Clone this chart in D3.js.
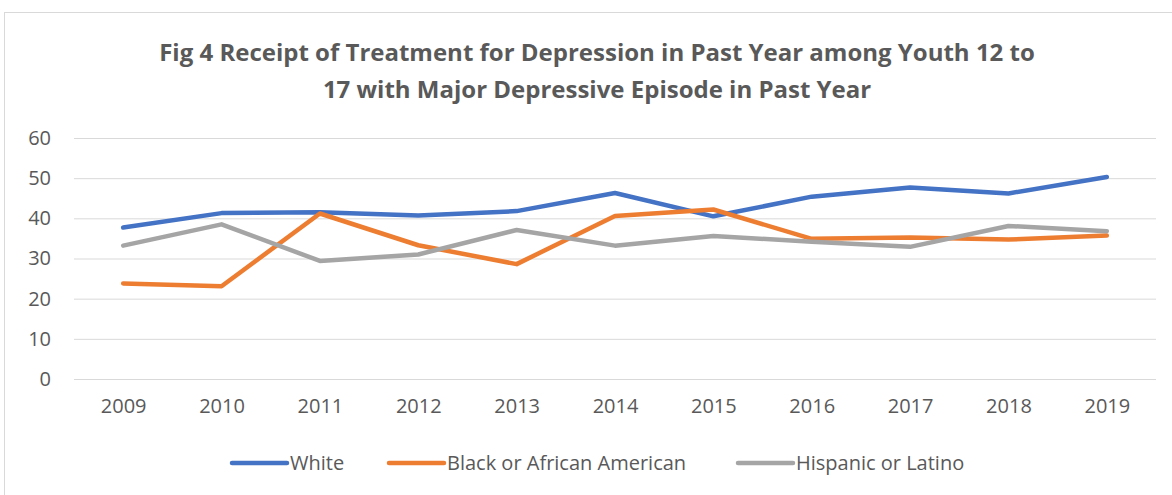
<!DOCTYPE html>
<html>
<head>
<meta charset="utf-8">
<script src="https://cdn.jsdelivr.net/npm/d3@7"></script>
<style>
  body { margin: 0; background: #fff; }
  text { font-family: "Open Sans", "Liberation Sans", sans-serif; fill: #595959; }
</style>
</head>
<body>
<div class="container"></div>
<script>
const years = ['2009', '2010', '2011', '2012', '2013', '2014', '2015', '2016', '2017', '2018', '2019'];
const white = [37.7, 41.3, 41.5, 40.7, 41.8, 46.3, 40.5, 45.4, 47.7, 46.2, 50.3];
const black = [23.8, 23.1, 41.2, 33.3, 28.6, 40.6, 42.2, 34.9, 35.2, 34.7, 35.7];
const hispanic = [33.2, 38.5, 29.4, 31.0, 37.1, 33.2, 35.6, 34.2, 32.9, 38.1, 36.8];
const seriesNames = ['White', 'Black or African American', 'Hispanic or Latino'];
const yTicks = [0, 10, 20, 30, 40, 50, 60];

const renderLineChart = () => {
  const width = 1172;
  const height = 495;
  const left = 74, right = 1156, top = 138, bottom = 379;
  const colors = ['#4472C4', '#ED7D31', '#A5A5A5'];
  const series = [white, black, hispanic];

  const svg = d3.select('.container')
    .append('svg')
    .attr('width', width)
    .attr('height', height);

  // chart area border
  svg.append('rect')
    .attr('x', 4.5).attr('y', 12.5)
    .attr('width', 1180).attr('height', 500)
    .attr('fill', 'none')
    .attr('stroke', '#d9d9d9');

  const xScale = d3.scalePoint()
    .domain(years)
    .range([left, right])
    .padding(0.5);

  const yScale = d3.scaleLinear()
    .domain([0, 60])
    .range([bottom, top]);

  // title
  const title = svg.append('text')
    .attr('text-anchor', 'middle')
    .attr('font-weight', 'bold')
    .attr('font-size', 24);
  title.append('tspan').attr('x', 597).attr('y', 61)
    .text('Fig 4 Receipt of Treatment for Depression in Past Year among Youth 12 to');
  title.append('tspan').attr('x', 597).attr('y', 98)
    .text('17 with Major Depressive Episode in Past Year');

  // gridlines
  svg.append('g')
    .selectAll('line')
    .data(yTicks)
    .enter()
    .append('line')
    .attr('x1', left).attr('x2', right)
    .attr('y1', d => yScale(d) + 0.5).attr('y2', d => yScale(d) + 0.5)
    .attr('stroke', '#d9d9d9')
    .attr('stroke-width', 1);

  // y labels
  const yAxis = svg.append('g')
    .attr('transform', `translate(${left - 23},0)`)
    .call(d3.axisLeft(yScale).tickValues(yTicks).tickSize(0).tickPadding(0));
  yAxis.select('.domain').remove();
  yAxis.selectAll('text').attr('font-size', 20).attr('fill', '#595959').style('font-family', null);

  // x labels
  const xAxis = svg.append('g')
    .attr('transform', `translate(0,${bottom + 20})`)
    .call(d3.axisBottom(xScale).tickSize(0).tickPadding(0));
  xAxis.select('.domain').remove();
  xAxis.selectAll('text').attr('font-size', 20).attr('fill', '#595959').attr('dy', '0.71em').style('font-family', null);

  const line = d3.line()
    .x((d, i) => xScale(years[i]))
    .y(d => yScale(d));

  svg.selectAll('path.series')
    .data(series)
    .enter()
    .append('path')
    .attr('class', 'series')
    .attr('d', d => line(d))
    .attr('fill', 'none')
    .attr('stroke', (d, i) => colors[i])
    .attr('stroke-width', 4.5)
    .attr('stroke-linecap', 'round')
    .attr('stroke-linejoin', 'round');

  // legend
  const legendX = [232, 389, 738];
  const legend = svg.selectAll('g.legend')
    .data(seriesNames)
    .enter()
    .append('g')
    .attr('class', 'legend')
    .attr('transform', (d, i) => `translate(${legendX[i]},463)`);
  legend.append('line')
    .attr('x1', 0).attr('x2', 55)
    .attr('stroke', (d, i) => colors[i])
    .attr('stroke-width', 4.5)
    .attr('stroke-linecap', 'round');
  legend.append('text')
    .attr('x', 58)
    .attr('dy', '0.35em')
    .attr('font-size', 20)
    .text(d => d);
};

renderLineChart();
</script>
</body>
</html>
